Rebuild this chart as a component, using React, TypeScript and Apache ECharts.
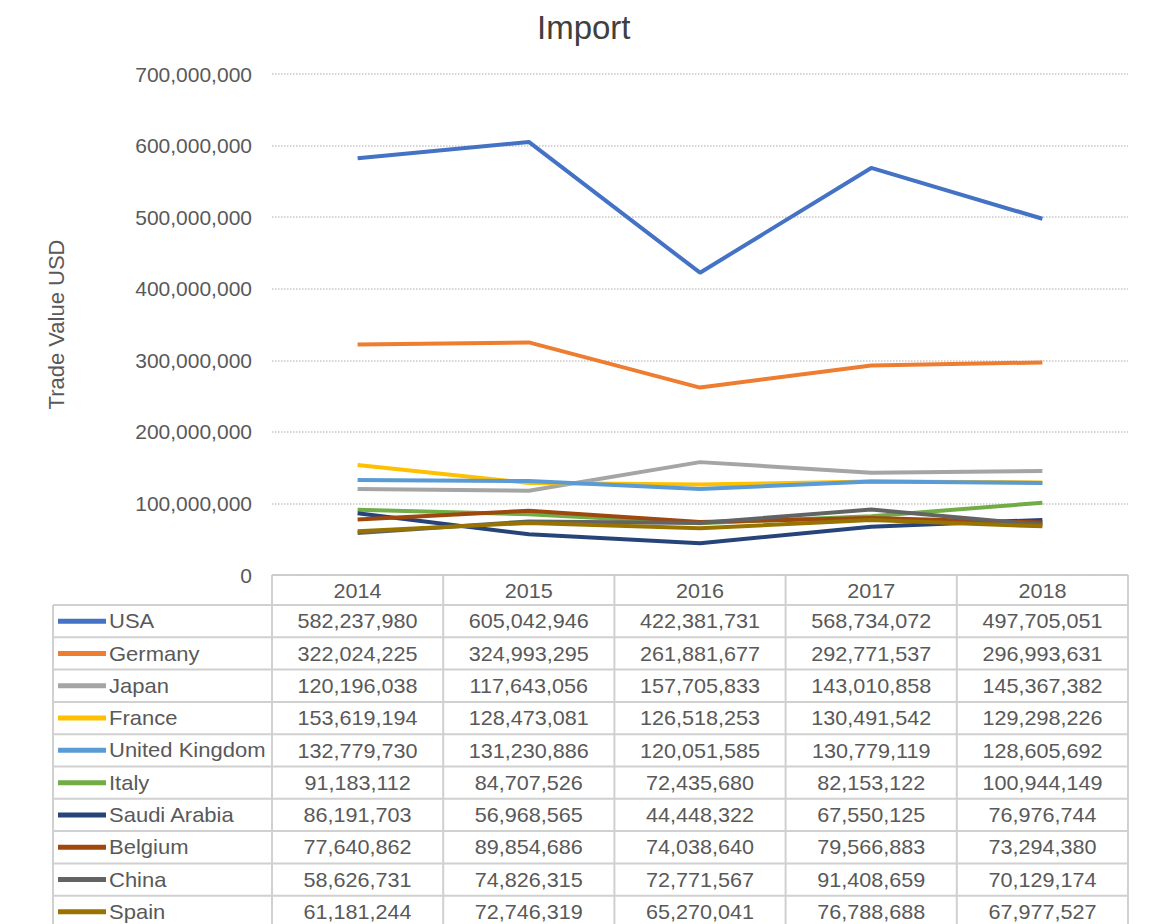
import React, { useEffect, useRef } from "react";
import * as echarts from "echarts";

const years = ["2014", "2015", "2016", "2017", "2018"];
const countries = ["USA", "Germany", "Japan", "France", "United Kingdom", "Italy", "Saudi Arabia", "Belgium", "China", "Spain"];
const usa = [582237980, 605042946, 422381731, 568734072, 497705051];
const germany = [322024225, 324993295, 261881677, 292771537, 296993631];
const japan = [120196038, 117643056, 157705833, 143010858, 145367382];
const france = [153619194, 128473081, 126518253, 130491542, 129298226];
const uk = [132779730, 131230886, 120051585, 130779119, 128605692];
const italy = [91183112, 84707526, 72435680, 82153122, 100944149];
const saudi = [86191703, 56968565, 44448322, 67550125, 76976744];
const belgium = [77640862, 89854686, 74038640, 79566883, 73294380];
const china = [58626731, 74826315, 72771567, 91408659, 70129174];
const spain = [61181244, 72746319, 65270041, 76788688, 67977527];
const yTicks = [0, 100000000, 200000000, 300000000, 400000000, 500000000, 600000000, 700000000];

const seriesData = [usa, germany, japan, france, uk, italy, saudi, belgium, china, spain];
const colors = ["#4472C4", "#ED7D31", "#A5A5A5", "#FFC000", "#5B9BD5", "#70AD47", "#264478", "#9E480E", "#636363", "#997300"];

const fmt = (v: number) => v.toLocaleString("en-US");

export default function App() {
  const ref = useRef<HTMLDivElement>(null);
  useEffect(() => {
    document.body.style.margin = "0";
    const chart = echarts.init(ref.current!, null, { renderer: "svg" });
    const gridLeft = 272;
    const gridRight = 1128;
    const gridTop = 74;
    const gridBottom = 575;
    const colW = (gridRight - gridLeft) / years.length;
    const headerBottom = 605;
    const rowH = 32.3;
    const tableLeft = 53;
    const border = "#d0d0d0";
    const textColor = "#595959";
    const font = "Liberation Sans, Arial, sans-serif";
    const sx = 1.08;

    const graphics: any[] = [];
    const tableBottom = headerBottom + rowH * countries.length;
    graphics.push({ type: "line", shape: { x1: gridLeft, y1: gridBottom, x2: gridRight, y2: gridBottom }, style: { stroke: border, lineWidth: 2 } });
    for (let r = 0; r <= countries.length; r++) {
      const y = headerBottom + r * rowH;
      graphics.push({ type: "line", shape: { x1: tableLeft, y1: y, x2: gridRight, y2: y }, style: { stroke: border, lineWidth: 2 } });
    }
    graphics.push({ type: "line", shape: { x1: tableLeft, y1: headerBottom, x2: tableLeft, y2: tableBottom }, style: { stroke: border, lineWidth: 2 } });
    for (let c = 0; c <= years.length; c++) {
      const x = gridLeft + c * colW;
      graphics.push({ type: "line", shape: { x1: x, y1: gridBottom, x2: x, y2: tableBottom }, style: { stroke: border, lineWidth: 2 } });
    }
    years.forEach((yr, c) => {
      graphics.push({
        type: "text", x: gridLeft + (c + 0.5) * colW, y: (gridBottom + headerBottom) / 2 + 1, scaleX: sx,
        style: { text: yr, fill: textColor, font: `20px ${font}`, textAlign: "center", textVerticalAlign: "middle" },
      });
    });
    countries.forEach((name, r) => {
      const cy = headerBottom + (r + 0.5) * rowH;
      graphics.push({ type: "line", shape: { x1: 58, y1: cy, x2: 106, y2: cy }, style: { stroke: colors[r], lineWidth: 5 } });
      graphics.push({
        type: "text", x: 109, y: cy, scaleX: 1.1,
        style: { text: name, fill: textColor, font: `20px ${font}`, textAlign: "left", textVerticalAlign: "middle" },
      });
      seriesData[r].forEach((v, c) => {
        graphics.push({
          type: "text", x: gridLeft + (c + 0.5) * colW, y: cy, scaleX: sx,
          style: { text: fmt(v), fill: textColor, font: `20px ${font}`, textAlign: "center", textVerticalAlign: "middle" },
        });
      });
    });

    chart.setOption({
      animation: false,
      backgroundColor: "#ffffff",
      title: {
        text: "Import", left: 532, top: 6,
        textStyle: { fontFamily: font, fontSize: 33, fontWeight: "normal", color: "#404040" },
      },
      grid: { left: gridLeft, right: 1159 - gridRight, top: gridTop, bottom: 924 - gridBottom, containLabel: false },
      xAxis: {
        type: "category", data: years, boundaryGap: true,
        axisLine: { show: false }, axisTick: { show: false }, axisLabel: { show: false },
      },
      yAxis: {
        type: "value", min: yTicks[0], max: yTicks[yTicks.length - 1], interval: 100000000,
        name: "Trade Value USD", nameLocation: "middle", nameGap: 205, nameRotate: 90,
        nameTextStyle: { fontFamily: font, fontSize: 22, color: textColor },
        axisLine: { show: false }, axisTick: { show: false },
        axisLabel: { formatter: (v: number) => fmt(v), fontFamily: font, fontSize: 21, color: textColor, margin: 20 },
        splitLine: { lineStyle: { type: "dotted", color: "#c8c8c8", width: 1.5 } },
      },
      series: countries.map((name, i) => ({
        name, type: "line", data: seriesData[i], symbol: "none",
        lineStyle: { width: 4, color: colors[i] }, itemStyle: { color: colors[i] },
      })),
      graphic: graphics,
    });
    return () => chart.dispose();
  }, []);
  return <div ref={ref} style={{ width: 1159, height: 924 }} />;
}
